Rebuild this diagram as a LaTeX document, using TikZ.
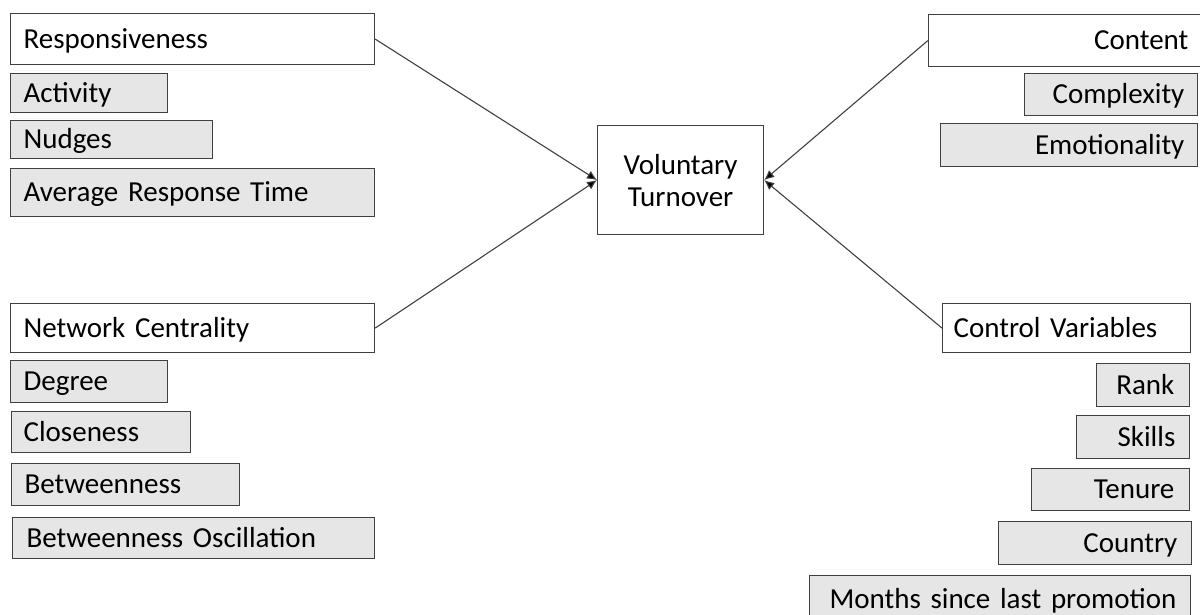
\documentclass[tikz,border=0pt]{standalone}
\usepackage{fontspec}
\setmainfont{Carlito}
\usetikzlibrary{arrows.meta}
\definecolor{edgegray}{HTML}{404040}
\definecolor{boxgray}{HTML}{E6E6E6}
\tikzset{
  factor/.style={draw=edgegray, line width=1.2pt, fill=white, inner xsep=13pt, inner ysep=0pt,
    text height=19pt, text depth=1pt, font=\fontsize{29}{32}\selectfont},
  measure/.style={factor, fill=boxgray},
  link/.style={draw=edgegray, line width=1.1pt, -{Latex[length=10pt, width=9pt, fill=black]}}
}
\begin{document}
\begin{tikzpicture}[x=1pt, y=-1pt]
\useasboundingbox (0,0) rectangle (1200,615);
% left column
\node[factor, anchor=north west, minimum height=51pt, text width=338pt, align=left] (resp) at (10,13){Responsiveness};
\node[measure, anchor=north west, minimum height=39pt, text width=131pt, align=left] (act) at (10,73){Activity};
\node[measure, anchor=north west, minimum height=38pt, text width=176pt, align=left] (nudge) at (10,120){Nudges};
\node[measure, anchor=north west, minimum height=48pt, text width=338pt, align=left] (art) at (10,168){Average Response Time};
\node[factor, anchor=north west, minimum height=49pt, text width=338pt, align=left] (netc) at (10,303){Network Centrality};
\node[measure, anchor=north west, minimum height=42pt, text width=131pt, align=left] (deg) at (10,360){Degree};
\node[measure, anchor=north west, minimum height=41pt, text width=155pt, align=left, inner xsep=12pt] (clos) at (11,411){Closeness};
\node[measure, anchor=north west, minimum height=42pt, text width=202pt, align=left] (betw) at (11,463){Betweenness};
\node[measure, anchor=north west, minimum height=41pt, text width=334pt, align=left, inner xsep=14pt] (bosc) at (12,517){Betweenness Oscillation};
% centre
\node[draw=edgegray, line width=1.2pt, anchor=north west, minimum width=166pt, minimum height=109pt,
  text width=150pt, align=center, inner sep=0pt, font=\fontsize{29}{32}\selectfont] (vt) at (597,125){Voluntary\\Turnover};
% right column
\node[factor, anchor=north east, minimum height=52pt, text width=247pt, align=right] (cont) at (1202,14){Content};
\node[measure, anchor=north east, minimum height=42pt, text width=147pt, align=right] (cplx) at (1198,73){Complexity};
\node[measure, anchor=north east, minimum height=43pt, text width=231pt, align=right] (emo) at (1198,123){Emotionality};
\node[factor, anchor=north west, minimum height=49pt, text width=226pt, align=left, inner xsep=11pt] (ctrl) at (942,303){Control Variables};
\node[measure, anchor=north east, minimum height=43pt, text width=63pt, align=right, inner xsep=15pt] (rank) at (1190,363){Rank};
\node[measure, anchor=north east, minimum height=43pt, text width=85pt, align=right, inner xsep=14pt] (skill) at (1190,415){Skills};
\node[measure, anchor=north east, minimum height=42pt, text width=128pt, align=right, inner xsep=15pt] (ten) at (1190,468){Tenure};
\node[measure, anchor=north east, minimum height=43pt, text width=165pt, align=right, inner xsep=14pt] (ctry) at (1192,521){Country};
\node[measure, anchor=north east, minimum height=48pt, text width=353pt, align=right, inner xsep=14pt] (promo) at (1191,575){Months since last promotion};
% arrows
\draw[link] (resp.east) -- (vt.west);
\draw[link] (netc.east) -- (vt.west);
\draw[link] (cont.west) -- (vt.east);
\draw[link] (ctrl.west) -- (vt.east);
\end{tikzpicture}
\end{document}
